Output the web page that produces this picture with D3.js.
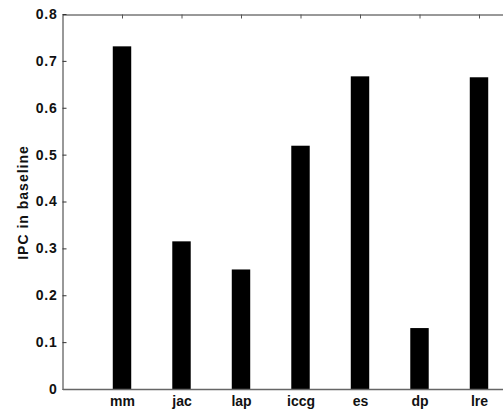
<!DOCTYPE html>
<html><head><meta charset="utf-8">
<script src="https://cdn.jsdelivr.net/npm/d3@7"></script>
<style>body{margin:0;background:#fff}svg{display:block}text{font-family:"Liberation Sans",Arial,sans-serif;font-weight:bold}</style>
</head><body>
<script>
const categories = ["mm","jac","lap","iccg","es","dp","lre"];
const values = [0.731, 0.315, 0.255, 0.519, 0.667, 0.130, 0.665];
const yTicks = [0,0.1,0.2,0.3,0.4,0.5,0.6,0.7,0.8];
const yLabel = "IPC in baseline";

const W=503,H=411;
const svg=d3.select("body").append("svg").attr("width",W).attr("height",H);
const x=d3.scaleLinear().domain([0,8]).range([62.5,538.5]);
const y=d3.scaleLinear().domain([0,0.8]).range([389,14]);
const bw=0.31;

svg.append("g").selectAll("rect").data(values).join("rect")
  .attr("x",(d,i)=>x(i+1-bw/2)).attr("width",(d,i)=>x(i+1+bw/2)-x(i+1-bw/2))
  .attr("y",d=>y(d)).attr("height",d=>y(0)-y(d)).attr("fill","#000");

// left axis
const gl=svg.append("g").attr("transform","translate(62.5,0)")
  .call(d3.axisLeft(y).tickValues(yTicks).tickFormat(d=>d===0?"0":d3.format(".1f")(d)).tickSizeInner(-4).tickSizeOuter(0).tickPadding(5));
gl.select(".domain").attr("stroke","#333");
gl.selectAll(".tick line").attr("stroke","#333");
gl.selectAll("text").attr("font-size",14).attr("letter-spacing",0.8).attr("fill","#111");

// top axis
const gt=svg.append("g").attr("transform","translate(0,14.5)")
  .call(d3.axisTop(x).tickValues(d3.range(1,categories.length+1)).tickFormat("").tickSizeInner(-4).tickSizeOuter(0));
gt.select(".domain").attr("stroke","#333");
gt.selectAll(".tick line").attr("stroke","#555");

// bottom axis
const gb=svg.append("g").attr("transform","translate(0,389)")
  .call(d3.axisBottom(x).tickValues(d3.range(1,categories.length+1)).tickFormat((d)=>categories[d-1]).tickSizeInner(0).tickSizeOuter(0).tickPadding(7.5));
gb.select(".domain").attr("stroke","#666").attr("stroke-width",1.5);
gb.selectAll("text").attr("font-size",14).attr("fill","#111");

svg.append("text").attr("transform","translate(28,202.5) rotate(-90)")
  .attr("text-anchor","middle").attr("font-size",14).attr("letter-spacing",1).attr("fill","#111").text(yLabel);
</script>
</body></html>
